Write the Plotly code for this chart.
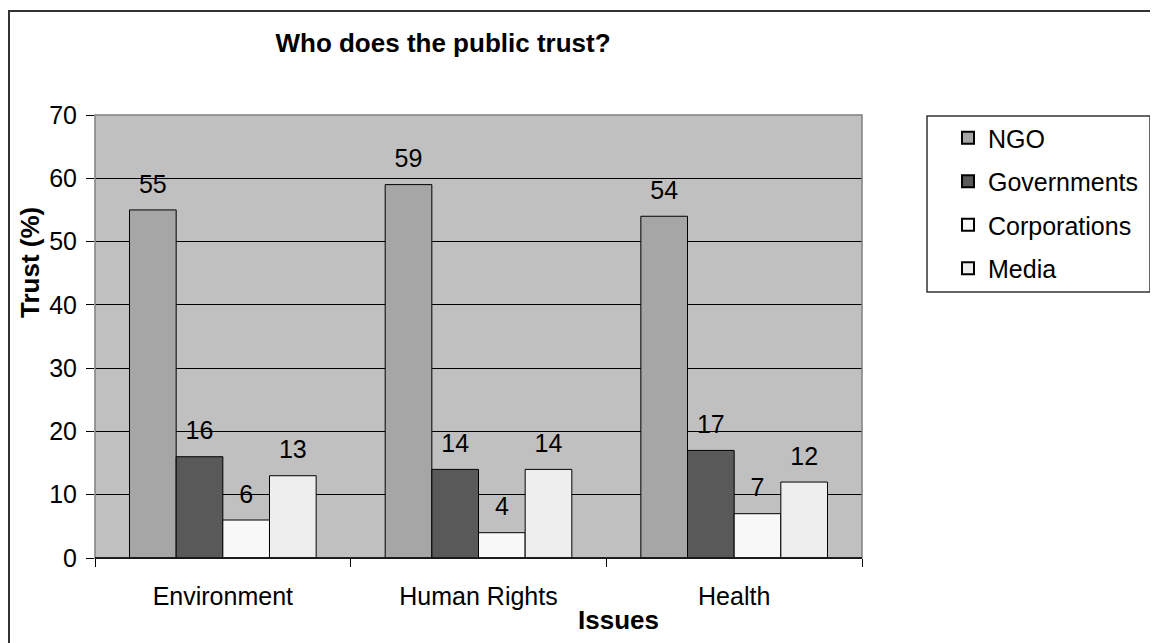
import plotly.graph_objects as go

categories = ["Environment", "Human Rights", "Health"]
series_names = ["NGO", "Governments", "Corporations", "Media"]
ngo = [55, 59, 54]
governments = [16, 14, 17]
corporations = [6, 4, 7]
media = [13, 14, 12]
colors = ["#A6A6A6", "#595959", "#F8F8F8", "#EEEEEE"]

FONT = "Liberation Sans, Arial, sans-serif"
FS = 25
FSB = 26
W, H = 1158, 643
OFF = 8  # page body margin
# plot area in screen pixels
SX0, SX1, SY0, SY1 = 95, 862, 115, 558
L, T = SX0 - OFF, SY0 - OFF
pw, ph = SX1 - SX0, SY1 - SY0
R, B = W - L - pw, H - T - ph


def px(x):
    return (x - SX0) / pw


def py(y):
    return (SY1 - y) / ph


fig = go.Figure()
all_vals = [ngo, governments, corporations, media]
for i, (name, vals) in enumerate(zip(series_names, all_vals)):
    fig.add_trace(go.Bar(
        x=categories, y=vals, name=name, offsetgroup=str(i),
        marker=dict(color=colors[i], line=dict(color="black", width=1)),
        cliponaxis=False, legendgroup=name,
    ))
for i, (name, vals) in enumerate(zip(series_names, all_vals)):
    fig.add_trace(go.Scatter(
        x=categories, y=vals, name=name, offsetgroup=str(i),
        mode="markers+text", text=[str(v) for v in vals],
        textposition="top center",
        textfont=dict(family=FONT, size=FS, color="black"),
        marker=dict(size=16, color="rgba(0,0,0,0)"),
        showlegend=False, hoverinfo="skip", cliponaxis=False,
    ))

fig.update_layout(
    width=W, height=H,
    margin=dict(l=L, r=R, t=T, b=B),
    paper_bgcolor="white", plot_bgcolor="#C0C0C0",
    barmode="group", bargap=0.27, bargroupgap=0,
    scattermode="group", scattergap=0.27,
    font=dict(family=FONT, size=FS, color="black"),
    title=dict(text="<b>Who does the public trust?</b>", x=px(443), xref="paper",
               xanchor="center", y=1 - (43 - OFF) / H, yanchor="middle",
               font=dict(family=FONT, size=FSB, color="black")),
    showlegend=True,
    legend=dict(x=px(948), y=py(115), xanchor="left", yanchor="top",
                xref="paper", yref="paper",
                bgcolor="rgba(0,0,0,0)", borderwidth=0,
                font=dict(family=FONT, size=FS, color="black"),
                tracegroupgap=8, itemsizing="constant"),
    xaxis=dict(showgrid=False, ticks="outside", tickson="boundaries", ticklen=8,
               tickcolor="black", showline=True, linecolor="black", linewidth=1,
               ticklabelstandoff=16,
               tickfont=dict(family=FONT, size=FS, color="black")),
    yaxis=dict(range=[0, 70], dtick=10, showgrid=True, gridcolor="black", gridwidth=1,
               ticks="outside", ticklen=8, tickcolor="black", showline=False,
               zeroline=False, ticklabelstandoff=4,
               tickfont=dict(family=FONT, size=FS, color="black")),
)

# plot area border
fig.add_shape(type="rect", xref="paper", yref="paper", x0=0, x1=1, y0=0, y1=1,
              line=dict(color="#808080", width=1.5), layer="above")
# bottom axis line in black on top of border
fig.add_shape(type="line", xref="paper", yref="paper", x0=0, x1=1, y0=0, y1=0,
              line=dict(color="black", width=1.5), layer="above")
# legend box
fig.add_shape(type="rect", xref="paper", yref="paper", x0=px(927), x1=px(1150),
              y0=py(292), y1=py(116), line=dict(color="#333333", width=1.5))
# outer frame
fig.add_shape(type="rect", xref="paper", yref="paper", x0=px(9), x1=px(1175),
              y0=py(670), y1=py(11), line=dict(color="#333333", width=2))

fig.add_annotation(text="<b>Issues</b>", xref="paper", yref="paper", x=px(618), y=py(620),
                   showarrow=False, font=dict(family=FONT, size=FSB, color="black"),
                   xanchor="center", yanchor="middle")
fig.add_annotation(text="<b>Trust (%)</b>", xref="paper", yref="paper", x=px(30), y=py(263),
                   showarrow=False, textangle=-90, font=dict(family=FONT, size=FSB, color="black"),
                   xanchor="center", yanchor="middle")

fig.write_html("out.html")
